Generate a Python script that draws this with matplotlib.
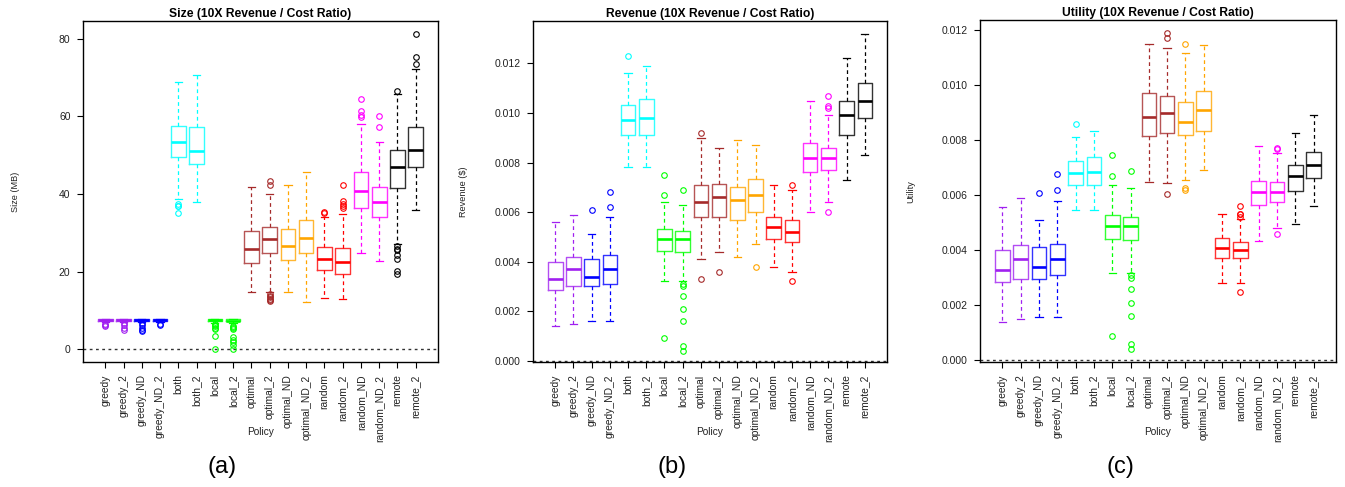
import matplotlib
matplotlib.use("Agg")
import matplotlib.pyplot as plt
import matplotlib.colors as mcolors

plt.rcParams['font.family'] = ['Liberation Sans', 'DejaVu Sans']

policies = ['greedy', 'greedy_2', 'greedy_ND', 'greedy_ND_2', 'both', 'both_2',
            'local', 'local_2', 'optimal', 'optimal_2', 'optimal_ND', 'optimal_ND_2',
            'random', 'random_2', 'random_ND', 'random_ND_2', 'remote', 'remote_2']
colors = ['#A020F0', '#A020F0', '#0000FF', '#0000FF', '#00FFFF', '#00FFFF',
          '#00FF00', '#00FF00', '#A52A2A', '#A52A2A', '#FFA500', '#FFA500',
          '#FF0000', '#FF0000', '#FF00FF', '#FF00FF', '#000000', '#000000']

# ---- (a) size (MB)
size_q1 = [7.3, 7.3, 7.3, 7.3, 49.6, 47.7, 7.2, 7.2, 22.2, 24.8, 23.1, 24.9, 20.4, 19.5, 36.3, 34.0, 41.6, 46.9]
size_med = [7.5, 7.5, 7.5, 7.5, 53.4, 51.2, 7.5, 7.4, 25.9, 28.4, 26.7, 28.6, 23.2, 22.4, 40.9, 38.0, 46.9, 51.3]
size_q3 = [7.7, 7.7, 7.7, 7.7, 57.6, 57.3, 7.7, 7.7, 30.6, 31.6, 31.0, 33.3, 26.3, 26.1, 45.7, 41.9, 51.4, 57.3]
size_lo = [7.0, 7.0, 7.0, 7.0, 38.7, 38.0, 6.9, 6.9, 14.8, 14.8, 14.8, 12.3, 13.2, 13.0, 24.8, 22.8, 27.1, 35.9]
size_hi = [7.9, 7.9, 7.9, 7.9, 68.8, 70.7, 7.9, 7.9, 41.9, 40.0, 42.2, 45.7, 34.2, 34.8, 58.0, 53.4, 65.7, 72.1]
size_out = [[6.6, 6.3, 6.1],
            [6.8, 6.2, 5.5, 4.9],
            [6.8, 6.2, 5.5, 5.0, 4.8],
            [6.6, 6.3],
            [37.5, 37.0, 36.8, 35.1],
            [],
            [6.6, 6.3, 5.9, 5.5, 5.2, 3.5, 0.0],
            [6.0, 5.7, 5.5, 5.3, 3.2, 2.5, 1.8, 1.0, 0.0],
            [],
            [43.4, 42.2, 14.2, 13.8, 13.4, 13.0, 12.7, 12.4],
            [],
            [],
            [35.5, 35.2],
            [42.3, 38.1, 37.5, 36.8, 36.3],
            [64.5, 61.3, 60.3, 59.9],
            [60.1, 57.2],
            [66.5, 26.5, 25.9, 25.5, 24.4, 23.2, 20.1, 19.5],
            [81.3, 75.3, 73.4]]

# ---- (b) revenue ($)
rev_q1 = [0.00285, 0.0030, 0.0030, 0.0031, 0.0091, 0.0091, 0.00444, 0.0044, 0.0058, 0.0058, 0.0057, 0.0060, 0.0049, 0.0048, 0.0076, 0.0077, 0.0091, 0.0098]
rev_med = [0.0033, 0.0037, 0.0034, 0.0037, 0.0097, 0.0098, 0.0049, 0.0049, 0.0064, 0.0066, 0.0065, 0.0067, 0.0054, 0.0052, 0.0082, 0.0082, 0.0099, 0.0105]
rev_q3 = [0.0040, 0.0042, 0.0041, 0.00425, 0.01034, 0.01056, 0.0053, 0.00525, 0.0071, 0.00714, 0.0070, 0.00733, 0.0058, 0.0057, 0.0088, 0.0086, 0.0105, 0.0112]
rev_lo = [0.00139, 0.0015, 0.0016, 0.0016, 0.0078, 0.0078, 0.0032, 0.0032, 0.0041, 0.0044, 0.0042, 0.0047, 0.0038, 0.0036, 0.0060, 0.0064, 0.0073, 0.0083]
rev_hi = [0.0056, 0.0059, 0.0051, 0.0058, 0.0116, 0.0119, 0.0064, 0.0063, 0.0090, 0.0086, 0.0089, 0.0087, 0.0071, 0.0069, 0.0105, 0.0099, 0.0122, 0.0132]
rev_out = [[], [], [0.0061], [0.0068, 0.0062], [0.0123], [],
           [0.0075, 0.0067, 0.0009],
           [0.0069, 0.0031, 0.0030, 0.0026, 0.0021, 0.0016, 0.0006, 0.0004],
           [0.0092, 0.0033], [0.0036], [], [0.0038],
           [], [0.0071, 0.0032], [], [0.0107, 0.0103, 0.0102, 0.0060], [], []]

# ---- (c) utility
util_q1 = [0.00283, 0.00297, 0.00297, 0.00309, 0.00638, 0.00638, 0.00442, 0.00438, 0.00813, 0.00827, 0.00817, 0.00832, 0.00373, 0.0037, 0.00564, 0.00575, 0.00614, 0.00662]
util_med = [0.00327, 0.00367, 0.00339, 0.00367, 0.00679, 0.00685, 0.00487, 0.00487, 0.00885, 0.0090, 0.00866, 0.0091, 0.00407, 0.0040, 0.00613, 0.0061, 0.00669, 0.0071]
util_q3 = [0.0040, 0.00418, 0.0041, 0.00424, 0.00723, 0.00738, 0.00529, 0.00522, 0.0097, 0.00961, 0.00937, 0.00979, 0.00444, 0.00429, 0.00653, 0.00649, 0.0071, 0.00757]
util_lo = [0.00139, 0.00149, 0.00158, 0.00158, 0.00545, 0.00545, 0.00319, 0.00319, 0.00647, 0.00643, 0.00654, 0.00692, 0.00281, 0.00281, 0.00433, 0.00482, 0.00494, 0.0056]
util_hi = [0.00557, 0.00588, 0.00508, 0.00577, 0.0081, 0.00832, 0.00638, 0.00627, 0.0115, 0.01133, 0.01116, 0.01145, 0.00531, 0.00513, 0.00778, 0.00752, 0.00825, 0.00892]
util_out = [[], [], [0.00607], [0.00678, 0.00617], [0.0086], [],
            [0.00747, 0.00668, 0.00088],
            [0.00687, 0.0031, 0.0030, 0.0026, 0.0021, 0.0016, 0.0006, 0.0004],
            [], [0.0119, 0.0117, 0.00604], [0.0115, 0.00627, 0.0062], [],
            [], [0.00559, 0.00533, 0.0053, 0.00521, 0.0025], [], [0.00772, 0.00766, 0.0046], [], []]

panels = [
    dict(title='Size (10X Revenue / Cost Ratio)', ylabel='Size (MB)', tag='(a)',
         q1=size_q1, med=size_med, q3=size_q3, lo=size_lo, hi=size_hi, out=size_out,
         ylim=(-3.25, 84.55), yticks=[0, 20, 40, 60, 80], fmt='{:.0f}',
         rect=[83, 21, 438, 362], ylab_x=15),
    dict(title='Revenue (10X Revenue / Cost Ratio)', ylabel='Revenue ($)', tag='(b)',
         q1=rev_q1, med=rev_med, q3=rev_q3, lo=rev_lo, hi=rev_hi, out=rev_out,
         ylim=(-0.00005, 0.01371), yticks=[0, 0.002, 0.004, 0.006, 0.008, 0.010, 0.012], fmt='{:.3f}',
         rect=[533, 21, 887, 362], ylab_x=464),
    dict(title='Utility (10X Revenue / Cost Ratio)', ylabel='Utility', tag='(c)',
         q1=util_q1, med=util_med, q3=util_q3, lo=util_lo, hi=util_hi, out=util_out,
         ylim=(-0.00006, 0.01236), yticks=[0, 0.002, 0.004, 0.006, 0.008, 0.010, 0.012], fmt='{:.3f}',
         rect=[980, 20, 1336, 362], ylab_x=911),
]

W, H = 1345, 487
fig = plt.figure(figsize=(W / 100, H / 100), dpi=100)

for p in panels:
    x0, y0, x1, y1 = p['rect']
    ax = fig.add_axes([x0 / W, 1 - y1 / H, (x1 - x0) / W, (y1 - y0) / H])
    stats = []
    for i in range(len(policies)):
        stats.append(dict(med=p['med'][i], q1=p['q1'][i], q3=p['q3'][i],
                          whislo=p['lo'][i], whishi=p['hi'][i], fliers=p['out'][i]))
    pos = list(range(1, len(policies) + 1))
    art = ax.bxp(stats, positions=pos, widths=0.8, capwidths=0.4, showfliers=True)
    for i, c in enumerate(colors):
        light = mcolors.to_rgba(c, 0.8)
        art['boxes'][i].set(color=light, linewidth=1.0)
        art['medians'][i].set(color=c, linewidth=1.9)
        for w in art['whiskers'][2 * i:2 * i + 2]:
            w.set(color=c, linewidth=0.9, linestyle=(0, (3, 2.5)))
        for cp in art['caps'][2 * i:2 * i + 2]:
            cp.set(color=c, linewidth=0.9)
        art['fliers'][i].set(marker='o', markerfacecolor='none', markeredgecolor=c,
                             markersize=4, markeredgewidth=0.8, linestyle='none')
    ax.axhline(0, color='#333333', linewidth=1.0, linestyle=(0, (2, 2.5)), zorder=0)
    ax.set_xlim(-0.22, 19.22)
    ax.set_ylim(*p['ylim'])
    ax.set_xticks(pos)
    ax.set_xticklabels(policies, rotation=90, fontsize=7.4, color='#222222')
    ax.set_yticks(p['yticks'])
    ax.set_yticklabels([p['fmt'].format(v) for v in p['yticks']], fontsize=7.5, color='#222222')
    ax.tick_params(axis='both', length=4.5, width=0.8, pad=4.5)
    for s in ax.spines.values():
        s.set_linewidth(1.0)
    ax.set_title(p['title'], fontsize=8.7, fontweight='bold', pad=3)
    cx = (x0 + x1) / 2
    fig.text(cx / W, 1 - 432 / H, 'Policy', fontsize=7.3, ha='center', va='center', color='#222222')
    fig.text(p['ylab_x'] / W, 1 - 192 / H, p['ylabel'], fontsize=6.6, rotation=90,
             ha='center', va='center', color='#222222')
    fig.text((cx - 38) / W, 1 - 467 / H, p['tag'], fontsize=17, ha='center', va='center')

fig.savefig('out.png', dpi=100)
